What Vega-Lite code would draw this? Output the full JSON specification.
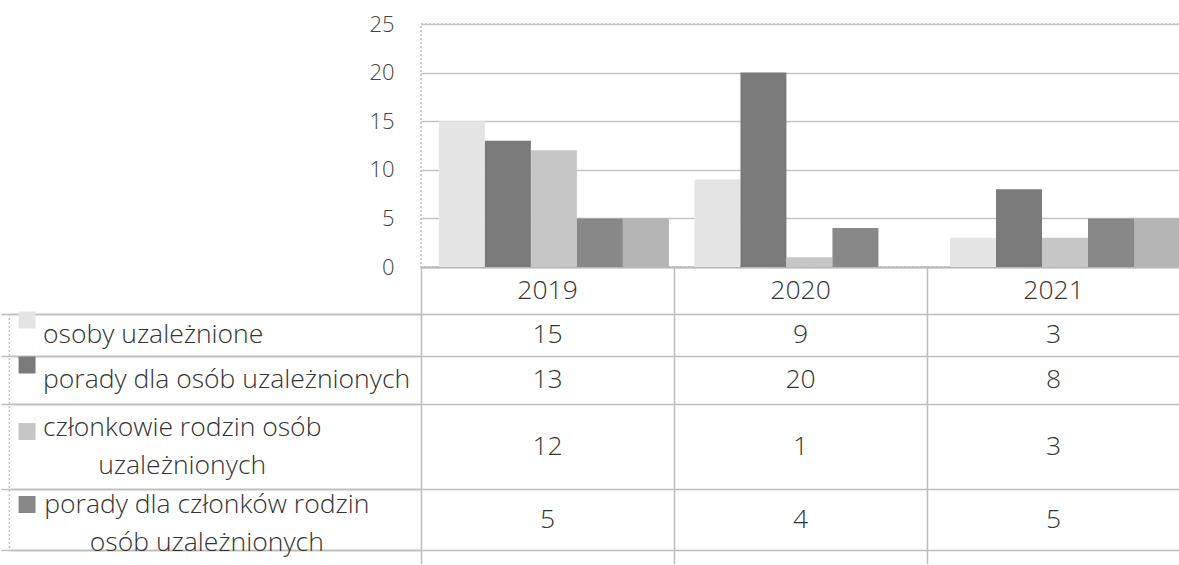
{
  "$schema": "https://vega.github.io/schema/vega-lite/v6.json",
  "padding": {"left": 0, "top": 12, "right": 0, "bottom": 0},
  "background": "white",
  "config": {"view": {"stroke": null}, "font": "Open Sans"},
  "datasets": {
    "main": [
      {"series": "osoby uzależnione", "label": "osoby uzależnione", "order": 1, "year": 2019, "value": 15},
      {"series": "osoby uzależnione", "label": "osoby uzależnione", "order": 1, "year": 2020, "value": 9},
      {"series": "osoby uzależnione", "label": "osoby uzależnione", "order": 1, "year": 2021, "value": 3},
      {"series": "porady dla osób uzależnionych", "label": "porady dla osób uzależnionych", "order": 2, "year": 2019, "value": 13},
      {"series": "porady dla osób uzależnionych", "label": "porady dla osób uzależnionych", "order": 2, "year": 2020, "value": 20},
      {"series": "porady dla osób uzależnionych", "label": "porady dla osób uzależnionych", "order": 2, "year": 2021, "value": 8},
      {"series": "członkowie rodzin osób uzależnionych", "label": "członkowie rodzin osób\nuzależnionych", "order": 3, "year": 2019, "value": 12},
      {"series": "członkowie rodzin osób uzależnionych", "label": "członkowie rodzin osób\nuzależnionych", "order": 3, "year": 2020, "value": 1},
      {"series": "członkowie rodzin osób uzależnionych", "label": "członkowie rodzin osób\nuzależnionych", "order": 3, "year": 2021, "value": 3},
      {"series": "porady dla członków rodzin osób uzależnionych", "label": "porady dla członków rodzin\nosób uzależnionych", "order": 4, "year": 2019, "value": 5},
      {"series": "porady dla członków rodzin osób uzależnionych", "label": "porady dla członków rodzin\nosób uzależnionych", "order": 4, "year": 2020, "value": 4},
      {"series": "porady dla członków rodzin osób uzależnionych", "label": "porady dla członków rodzin\nosób uzależnionych", "order": 4, "year": 2021, "value": 5},
      {"series": "pozostałe", "label": "pozostałe", "order": 5, "year": 2019, "value": 5},
      {"series": "pozostałe", "label": "pozostałe", "order": 5, "year": 2020, "value": 0},
      {"series": "pozostałe", "label": "pozostałe", "order": 5, "year": 2021, "value": 5}
    ]
  },
  "columns": 1,
  "spacing": 0,
  "bounds": "flush",
  "resolve": {"scale": {"x": "independent", "y": "independent", "color": "shared"}},
  "concat": [
    {
      "width": 759,
      "height": 243,
      "data": {"name": "main"},
      "view": {"stroke": "#b8b8b8", "strokeDash": [2, 2], "strokeWidth": 1.5},
      "mark": {"type": "bar"},
      "encoding": {
        "x": {
          "field": "year", "type": "ordinal",
          "scale": {"paddingInner": 0.1, "paddingOuter": 0.035, "align": 1},
          "axis": {"labels": false, "ticks": false, "title": null, "domainColor": "#b8b8b8", "domainWidth": 2}
        },
        "xOffset": {
          "field": "series", "type": "nominal",
          "scale": {
            "domain": ["osoby uzależnione", "porady dla osób uzależnionych", "członkowie rodzin osób uzależnionych", "porady dla członków rodzin osób uzależnionych", "pozostałe"],
            "paddingInner": 0, "paddingOuter": 0
          }
        },
        "y": {
          "field": "value", "type": "quantitative",
          "scale": {"domain": [0, 25]},
          "axis": {
            "values": [0, 5, 10, 15, 20, 25], "title": null, "ticks": false, "domain": false,
            "labelPadding": 27, "minExtent": 420, "maxExtent": 420,
            "labelFont": "Open Sans", "labelFontWeight": 300, "labelFontSize": 22, "labelColor": "#444444",
            "gridColor": "#c4c4c4", "gridWidth": 1.5
          }
        },
        "color": {
          "field": "series", "type": "nominal",
          "scale": {
            "domain": ["osoby uzależnione", "porady dla osób uzależnionych", "członkowie rodzin osób uzależnionych", "porady dla członków rodzin osób uzależnionych", "pozostałe"],
            "range": ["#e4e4e4", "#7a7a7a", "#c6c6c6", "#888888", "#b4b4b4"]
          },
          "legend": null
        }
      }
    },
    {
      "width": 759,
      "height": 297,
      "encoding": {
        "x": {
          "field": "year", "type": "quantitative",
          "scale": {"domain": [2017, 2018.5, 2021.5], "range": [-420, 0, 759], "nice": false, "zero": false},
          "axis": {"values": [2018.5, 2019.5, 2020.5, 2021.5], "grid": true, "labels": false, "ticks": false, "domain": false, "title": null, "gridColor": "#bdbdbd", "gridWidth": 1.5}
        },
        "y": {
          "field": "order", "type": "quantitative",
          "scale": {"domain": [-0.5, 0.5, 1.5, 2.5, 3.5, 4.5, 5.5], "range": [0, 47, 89, 137, 222, 283, 297], "nice": false, "zero": false},
          "axis": {"values": [0.5, 1.5, 2.5, 3.5, 4.5], "grid": true, "labels": false, "ticks": true, "tickSize": 410, "tickColor": "#bdbdbd", "tickWidth": 1.5, "domain": false, "title": null, "gridColor": "#bdbdbd", "gridWidth": 1.5}
        }
      },
      "layer": [
        {
          "data": {"name": "main"},
          "transform": [{"filter": "datum.order <= 4"}],
          "mark": {"type": "text", "font": "Open Sans", "fontWeight": 300, "fontSize": 26.5, "color": "#333333", "baseline": "middle"},
          "encoding": {"text": {"field": "value", "type": "quantitative"}}
        },
        {
          "data": {"name": "main"},
          "transform": [{"filter": "datum.order == 1"}],
          "mark": {"type": "text", "font": "Open Sans", "fontWeight": 300, "fontSize": 26.5, "color": "#333333", "baseline": "middle"},
          "encoding": {"y": {"datum": 0}, "text": {"field": "year", "type": "nominal"}}
        },
        {
          "data": {"name": "main"},
          "transform": [{"filter": "datum.order <= 2 && datum.year == 2019"}],
          "mark": {"type": "text", "font": "Open Sans", "fontWeight": 300, "fontSize": 26.5, "color": "#333333", "align": "left", "baseline": "middle"},
          "encoding": {"x": {"datum": 2017.15}, "text": {"field": "label", "type": "nominal"}}
        },
        {
          "data": {"name": "main"},
          "transform": [{"filter": "datum.order == 3 && datum.year == 2019"}],
          "mark": {"type": "text", "font": "Open Sans", "fontWeight": 300, "fontSize": 26.5, "color": "#333333", "align": "center", "baseline": "middle", "lineBreak": "\n", "lineHeight": 38, "dy": -19},
          "encoding": {"x": {"datum": 2017.647}, "text": {"field": "label", "type": "nominal"}}
        },
        {
          "data": {"name": "main"},
          "transform": [{"filter": "datum.order == 4 && datum.year == 2019"}],
          "mark": {"type": "text", "font": "Open Sans", "fontWeight": 300, "fontSize": 26.5, "color": "#333333", "align": "center", "baseline": "middle", "lineBreak": "\n", "lineHeight": 38, "dy": -15},
          "encoding": {"x": {"datum": 2017.735}, "text": {"field": "label", "type": "nominal"}}
        },
        {
          "data": {"name": "main"},
          "transform": [{"filter": "datum.order <= 4 && datum.year == 2019"}],
          "mark": {"type": "square", "size": 289, "opacity": 1, "filled": true},
          "encoding": {
            "x": {"datum": 2017.093},
            "yOffset": {"value": -15},
            "color": {"field": "series", "type": "nominal", "legend": null}
          }
        },
        {
          "data": {"name": "main"},
          "transform": [{"filter": "datum.order == 1 && datum.year == 2019"}],
          "mark": {"type": "rule", "color": "#c4c4c4", "strokeDash": [2, 2], "strokeWidth": 1.5},
          "encoding": {"x": {"datum": 2017.03}, "y": {"datum": 0.5}, "y2": {"datum": 4.5}}
        }
      ]
    }
  ]
}
